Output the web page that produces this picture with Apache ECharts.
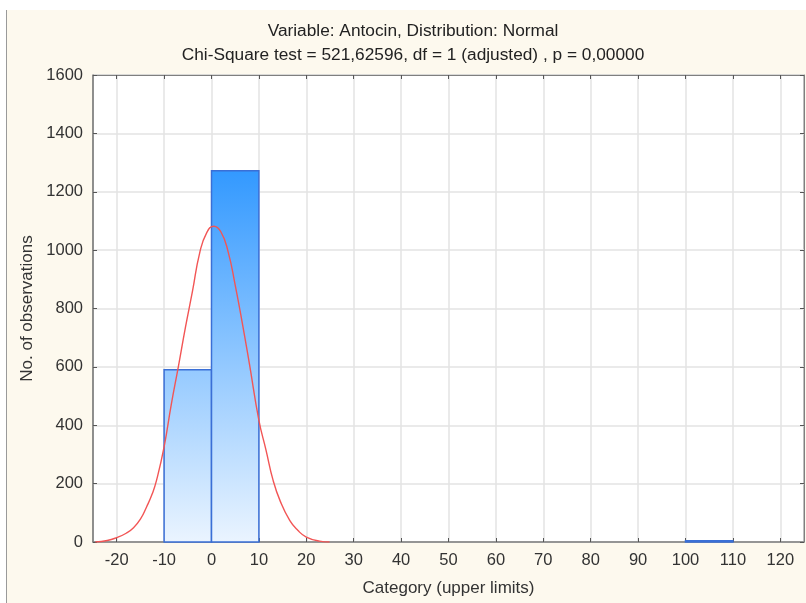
<!DOCTYPE html>
<html>
<head>
<meta charset="utf-8">
<script src="https://cdn.jsdelivr.net/npm/echarts@6/dist/echarts.min.js"></script>
<style>
  html, body { margin: 0; padding: 0; background: #ffffff; }
  .panel { position: absolute; left: 6px; top: 10px; width: 800px; height: 593px;
           background: #fdf9ee; border-left: 1px solid #9a9a9a; box-sizing: border-box; }
  #main { position: absolute; left: 0; top: 0; width: 806px; height: 603px; }
</style>
</head>
<body>
<div class="panel"></div>
<div id="main"></div>
<script>
// histogram bins: lower limit, upper limit, count
var binLower = [-10, 0, 100];
var binUpper = [0, 10, 110];
var binCount = [590, 1272, 4];

// fitted normal curve
var curveX = [-24.5, -22, -20, -18, -16.5, -15, -13.7, -12.5, -11.6, -10, -8.5, -7, -5.5, -4,
              -2.5, -1, 0.5, 2, 3.5, 5, 6.5, 8, 10, 11.5, 13, 14.5, 16.5, 18.2, 20, 22.8, 24.9];
var curveY = [0, 5, 15, 30, 48, 78, 120, 165, 211, 326, 470, 600, 735, 860,
              990, 1060, 1082, 1062, 995, 880, 750, 610, 417, 315, 211, 140, 74, 40, 17, 3, 0];

var xTicks = [-20, -10, 0, 10, 20, 30, 40, 50, 60, 70, 80, 90, 100, 110, 120];

var titleLine1 = 'Variable: Antocin, Distribution: Normal';
var titleLine2 = 'Chi-Square test = 521,62596, df = 1 (adjusted) , p = 0,00000';

var myChart = echarts.init(document.getElementById('main'));

var bins = binLower.map(function (lo, i) { return [lo, binUpper[i], binCount[i]]; });
var curve = curveX.map(function (x, i) { return [x, curveY[i]]; });
var maxCount = Math.max.apply(null, binCount);

var font = 'Liberation Sans, Arial, sans-serif';
var textCol = '#333333';
var axisCol = '#7f7f7f';

var option = {
  animation: false,
  backgroundColor: 'transparent',
  textStyle: { fontFamily: font },
  title: [
    { text: titleLine1, left: 408, top: 17.5, textAlign: 'center',
      textStyle: { fontSize: 17.3, fontWeight: 'normal', color: '#222', fontFamily: font } },
    { text: titleLine2, left: 408, top: 41.5, textAlign: 'center',
      textStyle: { fontSize: 17.3, fontWeight: 'normal', color: '#222', fontFamily: font } }
  ],
  grid: {
    left: 93, top: 75, right: 2, bottom: 61,
    show: true, backgroundColor: '#ffffff', borderColor: axisCol, borderWidth: 1
  },
  xAxis: [
    {
      type: 'value', min: -25, max: 125, position: 'bottom',
      name: 'Category (upper limits)', nameLocation: 'middle', nameGap: 38,
      nameTextStyle: { fontSize: 17, color: textCol, fontFamily: font },
      axisLine: { show: true, onZero: false, lineStyle: { color: axisCol, width: 1.5 } },
      axisTick: { show: true, inside: true, length: 4, customValues: xTicks, lineStyle: { color: '#555' } },
      axisLabel: { customValues: xTicks, margin: 10, fontSize: 16.5, color: textCol, fontFamily: font },
      splitLine: { show: true, lineStyle: { color: '#e3e3e3', width: 1.5 } }
    },
    {
      type: 'value', min: -25, max: 125, position: 'top',
      axisLine: { show: true, onZero: false, lineStyle: { color: axisCol } },
      axisTick: { show: true, inside: true, length: 4, customValues: xTicks, lineStyle: { color: '#555' } },
      axisLabel: { show: false },
      splitLine: { show: false }
    }
  ],
  yAxis: [
    {
      type: 'value', min: 0, max: 1600, interval: 200, position: 'left',
      name: 'No. of observations', nameLocation: 'middle', nameGap: 57,
      nameTextStyle: { fontSize: 17, color: textCol, fontFamily: font },
      axisLine: { show: true, onZero: false, lineStyle: { color: axisCol, width: 1.5 } },
      axisTick: { show: true, inside: true, length: 4, lineStyle: { color: '#555' } },
      axisLabel: { margin: 10, fontSize: 16.5, color: textCol, fontFamily: font,
                   formatter: function (v) { return String(v); } },
      splitLine: { show: true, lineStyle: { color: '#e3e3e3', width: 1.5 } }
    },
    {
      type: 'value', min: 0, max: 1600, interval: 200, position: 'right',
      axisLine: { show: true, onZero: false, lineStyle: { color: axisCol } },
      axisTick: { show: true, inside: true, length: 4, lineStyle: { color: '#555' } },
      axisLabel: { show: false },
      splitLine: { show: false }
    }
  ],
  series: [
    {
      type: 'custom',
      xAxisIndex: 0, yAxisIndex: 0,
      data: bins,
      encode: { x: [0, 1], y: 2 },
      renderItem: function (params, api) {
        var p0 = api.coord([api.value(0), 0]);
        var p1 = api.coord([api.value(1), api.value(2)]);
        var yTop = api.coord([0, maxCount])[1];
        var fill = new echarts.graphic.LinearGradient(0, p0[1], 0, yTop, [
          { offset: 0, color: '#eaf4ff' },
          { offset: 1, color: '#3399ff' }
        ], true);
        return {
          type: 'rect',
          shape: { x: p0[0], y: p1[1], width: p1[0] - p0[0], height: p0[1] - p1[1] },
          style: { fill: fill, stroke: '#3a6fd6', lineWidth: 1.5 }
        };
      },
      z: 2
    },
    {
      type: 'line',
      xAxisIndex: 0, yAxisIndex: 0,
      data: curve,
      smooth: true,
      showSymbol: false,
      lineStyle: { color: '#f25555', width: 1.4 },
      z: 3
    }
  ]
};

myChart.setOption(option);
</script>
</body>
</html>
